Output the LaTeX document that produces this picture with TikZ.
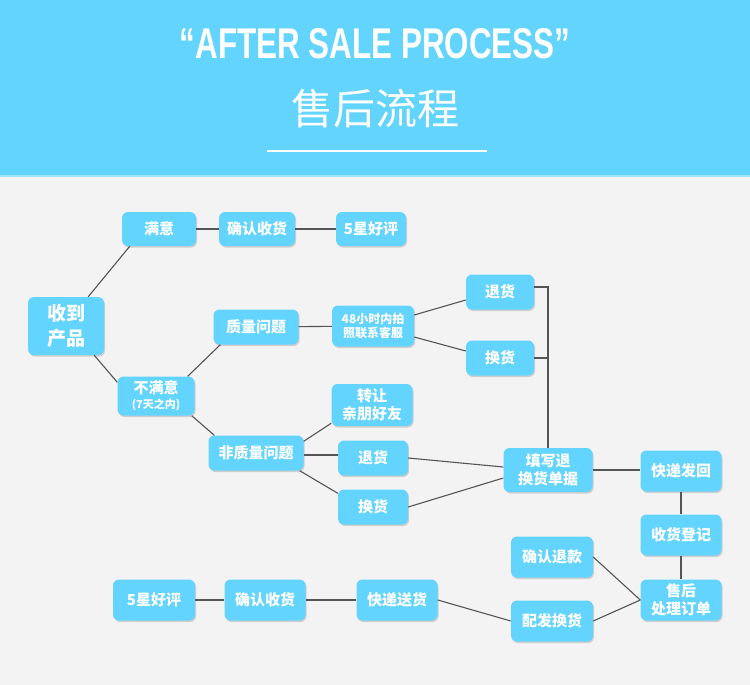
\documentclass[tikz,border=0pt]{standalone}
\usepackage{fontspec}
\usetikzlibrary{shadows}
\newfontfamily\cjk{Noto Sans CJK SC}
\newfontfamily\headfont{Liberation Sans}
\definecolor{skyblue}{HTML}{63D4FD}
\definecolor{paper}{HTML}{F3F3F3}
\definecolor{wire}{HTML}{555555}

\tikzset{
	box/.style = {fill=skyblue, rounded corners=6pt, text=white, align=center, inner sep=0pt,
		font=\cjk\bfseries\fontsize{15}{18}\selectfont, minimum height=35pt,
		drop shadow={shadow xshift=1pt, shadow yshift=-1.5pt, fill=black, opacity=0.15}},
	tallbox/.style = {box, minimum height=41pt},
	link/.style = {draw=wire, line width=1.1pt},
}

\begin{document}
\begin{tikzpicture}[x=1pt, y=-1pt]
	
		\useasboundingbox (0,0) rectangle (750,685);
		\fill[paper] (0,0) rectangle (750,685);
		\fill[skyblue] (0,0) rectangle (750,175);
		\fill[skyblue!60!white] (0,175) rectangle (750,177);
		
		% header
		\node[text=white, font=\headfont\bfseries\fontsize{43}{43}\selectfont] (title) at (375,44) {\scalebox{0.73}[1]{“AFTER SALE PROCESS”}};
		\node[text=white, font=\cjk\fontsize{42}{42}\selectfont] (subtitle) at (375,109) {售后流程};
		\draw[white, line width=1.5pt] (267,151) -- (487,151);
		
		% boxes
		\node[box, minimum width=76pt, minimum height=58pt, font=\cjk\bfseries\fontsize{19}{25}\selectfont] (recv) at (66,326) {收到\\产品};
		\node[box, minimum width=74pt, minimum height=34pt] (sat) at (159,229) {满意};
		\node[box, minimum width=76pt, minimum height=34pt] (confa) at (257,229) {确认收货};
		\node[box, minimum width=70pt, minimum height=34pt] (stara) at (371,229) {5星好评};
		\node[box, minimum width=77pt, minimum height=39pt] (unsat) at (156,396) {不满意\\[-3pt]{\fontsize{11}{13}\selectfont (7天之内)}};
		\node[box, minimum width=85pt] (qual) at (256,327) {质量问题};
		\node[box, minimum width=82pt, minimum height=41pt, font=\cjk\bfseries\fontsize{12}{14}\selectfont] (photo) at (373,326) {48小时内拍\\照联系客服};
		\node[box, minimum width=68pt] (reta) at (500,292) {退货};
		\node[box, minimum width=68pt] (exca) at (500,358) {换货};
		\node[box, minimum width=95pt] (nonq) at (256,453) {非质量问题};
		\node[box, minimum width=81pt, minimum height=42pt] (trans) at (372,405) {转让\\亲朋好友};
		\node[box, minimum width=70pt] (retb) at (373,458) {退货};
		\node[box, minimum width=70pt] (excb) at (373,507) {换货};
		\node[box, minimum width=89pt, minimum height=44pt] (form) at (548,470) {填写退\\换货单据};
		\node[tallbox, minimum width=81pt] (back) at (681,471) {快递发回};
		\node[tallbox, minimum width=81pt] (reg) at (681,535) {收货登记};
		\node[tallbox, minimum width=81pt] (proc) at (681,600) {售后\\处理订单};
		\node[tallbox, minimum width=82pt] (refund) at (552,557) {确认退款};
		\node[tallbox, minimum width=82pt] (dist) at (552,621) {配发换货};
		\node[tallbox, minimum width=81pt] (send) at (397,600) {快递送货};
		\node[tallbox, minimum width=81pt] (confb) at (265,600) {确认收货};
		\node[tallbox, minimum width=82pt] (starb) at (154,600) {5星好评};
		
		% connectors
		\draw[link] ([xshift=-16pt]recv.north east) -- ([xshift=8pt]sat.south west);
		\draw[link] ([xshift=-10pt]recv.south east) -- ([yshift=-6pt]unsat.north west);
		\draw[link] (sat) -- (confa) -- (stara);
		\draw[link] ([xshift=-7pt]unsat.north east) -- ([xshift=7pt]qual.south west);
		\draw[link] ([xshift=-3pt]unsat.south east) -- ([xshift=6pt]nonq.north west);
		\draw[link] (qual) -- (photo);
		\draw[link] ([yshift=11pt]photo.east) -- ([yshift=-8pt]reta.west);
		\draw[link] ([yshift=-11pt]photo.east) -- ([yshift=7pt]exca.west);
		\draw[link] ([yshift=5pt]reta.east) -| (form.north);
		\draw[link] (exca.east) -- (exca.east -| form.north);
		\draw[link] ([yshift=-6pt]nonq.north east) -- ([yshift=3pt]trans.south west);
		\draw[link] ([yshift=-2pt]nonq.east) -- ([yshift=-2pt]nonq.east -| retb.west);
		\draw[link] ([xshift=-4pt]nonq.south east) -- ([yshift=-4pt]excb.north west);
		\draw[link] (retb.east) -- ([yshift=3pt]form.west);
		\draw[link] (excb.east) -- ([yshift=-8pt]form.west);
		\draw[link] (form.east) -- (form.east -| back.west);
		\draw[link] (back) -- (reg) -- (proc);
		\draw[link] (refund.east) -- (proc.west);
		\draw[link] (dist.east) -- (proc.west);
		\draw[link] (send.east) -- (dist.west);
		\draw[link] (send) -- (confb) -- (starb);
		
	\end{tikzpicture}
\end{document}
